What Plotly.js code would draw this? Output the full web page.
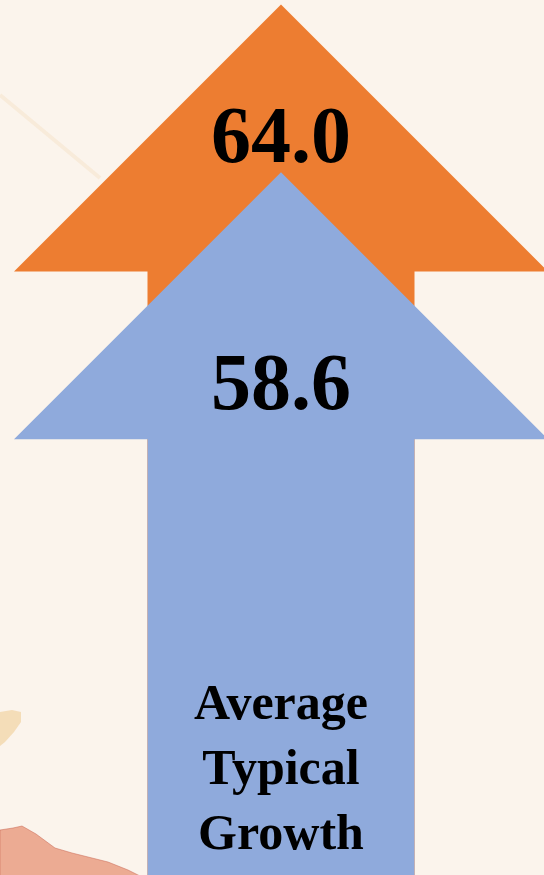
<!DOCTYPE html>
<html>
<head>
<meta charset="utf-8">
<script src="https://cdn.plot.ly/plotly-3.0.1.min.js"></script>
<style>
  html, body { margin: 0; padding: 0; background: #fbf4ec; }
  #chart { width: 544px; height: 875px; }
</style>
</head>
<body>
<div id="chart"></div>
<script>
// ---- data ----
const categories = ['Comparison', 'Average Typical Growth'];
const values = [64.0, 58.6];
const valueLabels = ['64.0', '58.6'];
const categoryLabels = ['', 'Average<br>Typical<br>Growth'];

// ---- styling ----
const arrowColors = ['#ED7D31', '#8FAADC'];
const W = 544, H = 875;
const pxPerUnit = 31.07;          // vertical scale
const yTop = values[0] + 4.5 / pxPerUnit;
const yBottom = yTop - H / pxPerUnit;
const cx = 281;                    // arrow centre (x px)
const headHalf = 267, shaftHalf = 133.5;
const headUnits = 267 / pxPerUnit;
const pxToY = p => yTop - p / pxPerUnit;

function arrow(v, color, name) {
  const base = v - headUnits;
  const bottom = yBottom - 2;
  return {
    type: 'scatter', mode: 'lines', name: name,
    x: [cx, cx + headHalf, cx + shaftHalf, cx + shaftHalf, cx - shaftHalf, cx - shaftHalf, cx - headHalf, cx],
    y: [v, base, base, bottom, bottom, base, base, v],
    fill: 'toself', fillcolor: color, line: { width: 0, color: color },
    hoverinfo: 'skip', showlegend: false
  };
}

const traces = values.map((v, i) => arrow(v, arrowColors[i], categories[i]));

const font = { family: 'Liberation Serif, DejaVu Serif, serif', color: '#000' };
const annotations = [
  { x: cx, y: pxToY(135), text: '<b>' + valueLabels[0] + '</b>', showarrow: false,
    xref: 'x', yref: 'y', xanchor: 'center', yanchor: 'middle', font: Object.assign({ size: 80 }, font) },
  { x: cx, y: pxToY(382), text: '<b>' + valueLabels[1] + '</b>', showarrow: false,
    xref: 'x', yref: 'y', xanchor: 'center', yanchor: 'middle', font: Object.assign({ size: 80 }, font) },
  { x: cx, y: pxToY(767), text: '<b>' + categoryLabels[1] + '</b>', showarrow: false,
    xref: 'x', yref: 'y', xanchor: 'center', yanchor: 'middle', font: Object.assign({ size: 50 }, font) }
];

// watercolour background stains (decorative)
const shapes = [
  { type: 'path', layer: 'below', xref: 'x', yref: 'y',
    path: 'M 0 ' + pxToY(830) + ' L 13 ' + pxToY(828) + ' L 22 ' + pxToY(826) + ' L 36 ' + pxToY(834) +
          ' L 55 ' + pxToY(848) + ' L 72 ' + pxToY(853) + ' L 92 ' + pxToY(858) + ' L 108 ' + pxToY(862) +
          ' L 128 ' + pxToY(870) + ' L 140 ' + pxToY(876) + ' L 0 ' + pxToY(876) + ' Z',
    fillcolor: 'rgba(230,140,110,0.7)', line: { width: 1, color: 'rgba(200,100,80,0.5)' } },
  { type: 'path', layer: 'below', xref: 'x', yref: 'y',
    path: 'M 0 ' + pxToY(712) + ' L 12 ' + pxToY(710) + ' L 21 ' + pxToY(712) + ' L 21 ' + pxToY(722) +
          ' L 14 ' + pxToY(732) + ' L 5 ' + pxToY(742) + ' L 0 ' + pxToY(746) + ' Z',
    fillcolor: 'rgba(240,205,150,0.6)', line: { width: 0 } },
  { type: 'line', layer: 'below', xref: 'x', yref: 'y',
    x0: 0, y0: pxToY(95), x1: 100, y1: pxToY(178),
    line: { width: 4, color: 'rgba(240,200,150,0.2)' } }
];

const layout = {
  width: W, height: H,
  margin: { l: 0, r: 0, t: 0, b: 0 },
  paper_bgcolor: '#fbf4ec', plot_bgcolor: 'rgba(0,0,0,0)',
  xaxis: { range: [0, W], visible: false, fixedrange: true },
  yaxis: { range: [yBottom, yTop], visible: false, fixedrange: true },
  showlegend: false,
  annotations: annotations,
  shapes: shapes
};

Plotly.newPlot('chart', traces, layout, { displayModeBar: false, staticPlot: true });
</script>
</body>
</html>
